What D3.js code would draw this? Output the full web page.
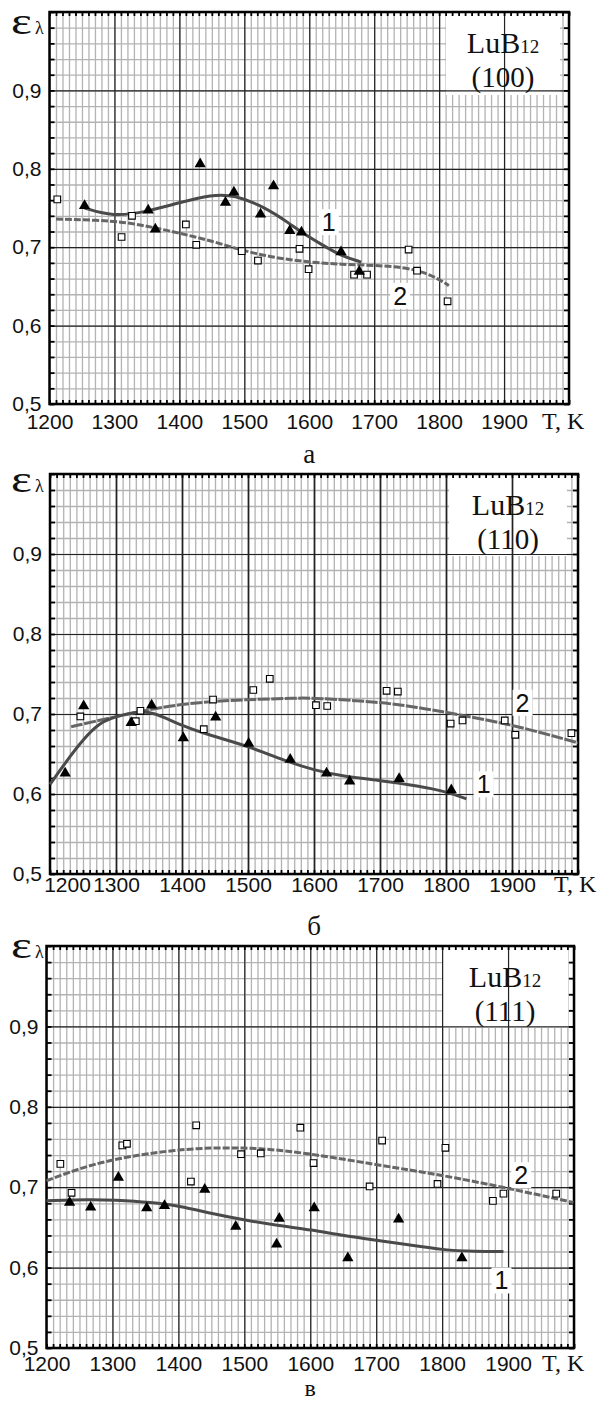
<!DOCTYPE html>
<html>
<head>
<meta charset="utf-8">
<script src="https://cdn.jsdelivr.net/npm/d3@7"></script>
<style>
  body { margin: 0; background: #fff; }
  svg { display: block; }
  .tick-label { font-family: "Liberation Sans", Arial, sans-serif; font-size: 21px; fill: #111; }
  .serif { font-family: "Liberation Serif", "Times New Roman", serif; fill: #111; }
</style>
</head>
<body>
<svg id="chart" width="597" height="1402"></svg>
<script>
// ---- data: [T (K), emissivity] ----

// (а) LuB12 (100)
const trianglesA = [[1254,0.753],[1352,0.747],[1363,0.723],[1432,0.806],[1471,0.757],[1484,0.770],
  [1525,0.742],[1545,0.778],[1570,0.721],[1588,0.719],[1649,0.694],[1677,0.669]];
const squaresA = [[1212,0.761],[1311,0.713],[1327,0.740],[1410,0.729],[1426,0.703],[1496,0.695],
  [1521,0.683],[1585,0.698],[1599,0.672],[1669,0.665],[1689,0.665],[1753,0.697],[1766,0.670],[1813,0.631]];
const curve1A = [[1254,0.750],[1297,0.739],[1350,0.745],[1400,0.757],[1450,0.767],[1484,0.767],
  [1532,0.751],[1570,0.730],[1588,0.719],[1620,0.703],[1649,0.689],[1680,0.681]];
const curve2A = [[1210,0.736],[1300,0.734],[1350,0.727],[1400,0.718],[1450,0.708],[1500,0.695],
  [1550,0.686],[1600,0.681],[1650,0.678],[1700,0.677],[1750,0.674],[1780,0.667],[1800,0.659],[1815,0.651]];

// (б) LuB12 (110)
const trianglesB = [[1223,0.626],[1251,0.710],[1323,0.689],[1354,0.711],[1402,0.670],[1451,0.696],
  [1501,0.663],[1564,0.643],[1619,0.626],[1654,0.616],[1729,0.619],[1808,0.605]];
const squaresB = [[1246,0.697],[1330,0.691],[1337,0.704],[1433,0.681],[1447,0.718],[1508,0.730],
  [1533,0.744],[1603,0.711],[1620,0.710],[1710,0.729],[1727,0.728],[1807,0.688],[1825,0.692],
  [1889,0.692],[1905,0.674],[1990,0.676]];
const curve1B = [[1200,0.612],[1223,0.639],[1252,0.670],[1275,0.689],[1300,0.697],[1330,0.703],
  [1356,0.703],[1400,0.685],[1448,0.672],[1500,0.660],[1564,0.639],[1600,0.630],[1644,0.622],
  [1700,0.617],[1759,0.610],[1800,0.603],[1831,0.594]];
const curve2B = [[1232,0.684],[1300,0.697],[1400,0.714],[1500,0.718],[1575,0.720],[1600,0.720],
  [1700,0.715],[1759,0.708],[1800,0.702],[1900,0.687],[2000,0.664]];

// (в) LuB12 (111)
const trianglesC = [[1235,0.681],[1267,0.675],[1309,0.712],[1352,0.674],[1379,0.677],[1440,0.697],
  [1487,0.651],[1549,0.629],[1553,0.661],[1606,0.674],[1657,0.612],[1734,0.660],[1830,0.612]];
const squaresC = [[1221,0.729],[1238,0.693],[1315,0.752],[1322,0.754],[1419,0.707],[1427,0.777],
  [1495,0.741],[1525,0.742],[1585,0.774],[1605,0.730],[1690,0.701],[1709,0.758],[1793,0.704],
  [1805,0.749],[1877,0.683],[1893,0.692],[1973,0.692]];
const curve1C = [[1200,0.683],[1268,0.685],[1301,0.684],[1360,0.681],[1400,0.677],[1452,0.667],
  [1501,0.659],[1553,0.652],[1602,0.647],[1648,0.640],[1700,0.634],[1752,0.628],[1800,0.622],
  [1850,0.620],[1893,0.620]];
const curve2C = [[1200,0.708],[1245,0.722],[1300,0.735],[1401,0.748],[1500,0.750],[1584,0.744],
  [1700,0.728],[1800,0.715],[1899,0.699],[1999,0.681]];

// axis ticks and labels
const xLabels = [1200, 1300, 1400, 1500, 1600, 1700, 1800, 1900];
const yLabels = [0.5, 0.6, 0.7, 0.8, 0.9];
const xMajor = [1300, 1400, 1500, 1600, 1700, 1800, 1900];
const yMajor = [0.6, 0.7, 0.8, 0.9];
const xMinor = d3.range(1200, 2001, 10);
const yMinor = d3.range(0, 26).map(i => 0.5 + i * 0.02);

const panels = [
  { left: 49.5, right: 569, top: 12, bottom: 404, face: "(100)", letter: "а",
    tri: trianglesA, sq: squaresA, c1: curve1A, c2: curve2A,
    lab1: [1630, 0.732], lab2: [1740, 0.638], pad: 10, shift0: 0, tk: 542, lb: 463, lbSize: 27, epsY: 21.5,
    box: [123, 9, 83], dash: "7,2", major: 1.2 },
  { left: 50, right: 578, top: 474, bottom: 874, face: "(110)", letter: "б",
    tri: trianglesB, sq: squaresB, c1: curve1B, c2: curve2B,
    lab1: [1857, 0.612], lab2: [1916, 0.714], pad: 3, shift0: 17, tk: 554, lb: 935, lbSize: 27, epsY: 18,
    box: [129, 11, 82], dash: "12,1.5", major: 1.7 },
  { left: 46.5, right: 574, top: 946, bottom: 1348, face: "(111)", letter: "в",
    tri: trianglesC, sq: squaresC, c1: curve1C, c2: curve2C,
    lab1: [1890, 0.584], lab2: [1920, 0.715], pad: 8, shift0: 0, tk: 542, lb: 1396, lbSize: 24, epsY: 12,
    box: [132, 6, 82], dash: "7,2", major: 1.2 }
];

const svg = d3.select("#chart");
const comma = d => d3.format(".1f")(d).replace(".", ",");

panels.forEach(p => {
  const x = d3.scaleLinear().domain([1200, 2000]).range([p.left, p.right]);
  const y = d3.scaleLinear().domain([0.5, 1.0]).range([p.bottom, p.top]);
  const w = p.right - p.left, h = p.bottom - p.top;
  const g = svg.append("g");

  // minor grid
  g.append("g").attr("transform", `translate(0,${p.bottom})`)
    .call(d3.axisBottom(x).tickValues(xMinor).tickSize(-h).tickFormat(""))
    .call(a => a.select(".domain").remove())
    .selectAll("line").attr("stroke", "#b3b3b3").attr("stroke-width", 1.3);
  g.append("g").attr("transform", `translate(${p.left},0)`)
    .call(d3.axisLeft(y).tickValues(yMinor).tickSize(-w).tickFormat(""))
    .call(a => a.select(".domain").remove())
    .selectAll("line").attr("stroke", "#b3b3b3").attr("stroke-width", 1.3);

  // label box (covers the grid)
  g.append("rect")
    .attr("x", p.right - p.box[0]).attr("y", p.top)
    .attr("width", p.box[0] - p.box[1]).attr("height", p.box[2])
    .attr("fill", "#fff");

  // major grid
  g.append("g").attr("transform", `translate(0,${p.bottom})`)
    .call(d3.axisBottom(x).tickValues(xMajor).tickSize(-h).tickFormat(""))
    .call(a => a.select(".domain").remove())
    .selectAll("line").attr("stroke", "#222").attr("stroke-width", p.major);
  g.append("g").attr("transform", `translate(${p.left},0)`)
    .call(d3.axisLeft(y).tickValues(yMajor).tickSize(-w).tickFormat(""))
    .call(a => a.select(".domain").remove())
    .selectAll("line").attr("stroke", "#222").attr("stroke-width", 1.2);

  // inward ticks on all four sides
  const tickStyle = a => {
    a.select(".domain").remove();
    a.selectAll("line").attr("stroke", "#000").attr("stroke-width", 1.8);
  };
  g.append("g").attr("transform", `translate(0,${p.bottom})`)
    .call(d3.axisBottom(x).tickValues(xMinor).tickSize(-4).tickFormat("")).call(tickStyle);
  g.append("g").attr("transform", `translate(0,${p.top})`)
    .call(d3.axisTop(x).tickValues(xMinor).tickSize(-4).tickFormat("")).call(tickStyle);
  g.append("g").attr("transform", `translate(${p.left},0)`)
    .call(d3.axisLeft(y).tickValues(yMinor).tickSize(-5).tickFormat("")).call(tickStyle);
  g.append("g").attr("transform", `translate(${p.right},0)`)
    .call(d3.axisRight(y).tickValues(yMinor).tickSize(-5).tickFormat("")).call(tickStyle);

  // frame
  g.append("rect").attr("x", p.left).attr("y", p.top).attr("width", w).attr("height", h)
    .attr("fill", "none").attr("stroke", "#000").attr("stroke-width", 2.5);

  // tick labels
  g.append("g").attr("transform", `translate(0,${p.bottom})`)
    .call(d3.axisBottom(x).tickValues(xLabels).tickSize(0).tickPadding(p.pad).tickFormat(d => d))
    .call(a => a.select(".domain").remove())
    .call(a => a.selectAll(".tick").filter(d => d === 1200).select("text").attr("x", p.shift0))
    .selectAll("text").attr("class", "tick-label");
  g.append("g").attr("transform", `translate(${p.left},0)`)
    .call(d3.axisLeft(y).tickValues(yLabels).tickSize(0).tickPadding(8).tickFormat(comma))
    .call(a => a.select(".domain").remove())
    .selectAll("text").attr("class", "tick-label");
  svg.selectAll("g").attr("font-size", null).attr("font-family", null);

  g.append("text").attr("class", "serif").attr("x", p.tk).attr("y", p.bottom + p.pad + 15)
    .attr("font-size", 24).text("T, K");

  g.append("text").attr("class", "serif").attr("x", (p.left + p.right) / 2).attr("y", p.lb)
    .attr("text-anchor", "middle").attr("font-size", p.lbSize).text(p.letter);

  // y axis symbol
  g.append("text").attr("class", "serif")
    .attr("transform", `translate(11,${p.top + p.epsY}) scale(1.5,1.12)`)
    .attr("font-size", 33).text("ε");
  g.append("text").attr("class", "serif").attr("x", 35).attr("y", p.top + p.epsY)
    .attr("font-size", 18).text("λ");

  // sample label
  const cx = p.right - (p.box[0] + p.box[1]) / 2;
  const t1 = g.append("text").attr("class", "serif").attr("x", cx).attr("y", p.top + 41)
    .attr("text-anchor", "middle").attr("font-size", 30).text("LuB");
  t1.append("tspan").attr("font-size", 19).text("12");
  g.append("text").attr("class", "serif").attr("x", cx).attr("y", p.top + 75)
    .attr("text-anchor", "middle").attr("font-size", 29).text(p.face);

  // fitted curves
  const line = d3.line().x(d => x(d[0])).y(d => y(d[1])).curve(d3.curveBasis);
  g.append("path").attr("d", line(p.c2)).attr("fill", "none")
    .attr("stroke", "#666").attr("stroke-width", 3).attr("stroke-dasharray", p.dash);
  g.append("path").attr("d", line(p.c1)).attr("fill", "none")
    .attr("stroke", "#4a4a4a").attr("stroke-width", 3);

  // curve numbers
  [["1", p.lab1], ["2", p.lab2]].forEach(([s, pos]) => {
    g.append("rect").attr("x", x(pos[0]) - 10).attr("y", y(pos[1]) - 13)
      .attr("width", 20).attr("height", 26).attr("fill", "#fff");
    g.append("text").attr("class", "tick-label").attr("x", x(pos[0])).attr("y", y(pos[1]) + 9)
      .attr("text-anchor", "middle").style("font-size", "25px").text(s);
  });

  // markers
  g.append("g").selectAll("path").data(p.sq).join("path")
    .attr("transform", d => `translate(${x(d[0])},${y(d[1])})`)
    .attr("d", d3.symbol(d3.symbolSquare, 44))
    .attr("fill", "#fff").attr("stroke", "#000").attr("stroke-width", 1.1);
  g.append("g").selectAll("path").data(p.tri).join("path")
    .attr("transform", d => `translate(${x(d[0])},${y(d[1])})`)
    .attr("d", d3.symbol(d3.symbolTriangle, 55))
    .attr("fill", "#000");
});
</script>
</body>
</html>
